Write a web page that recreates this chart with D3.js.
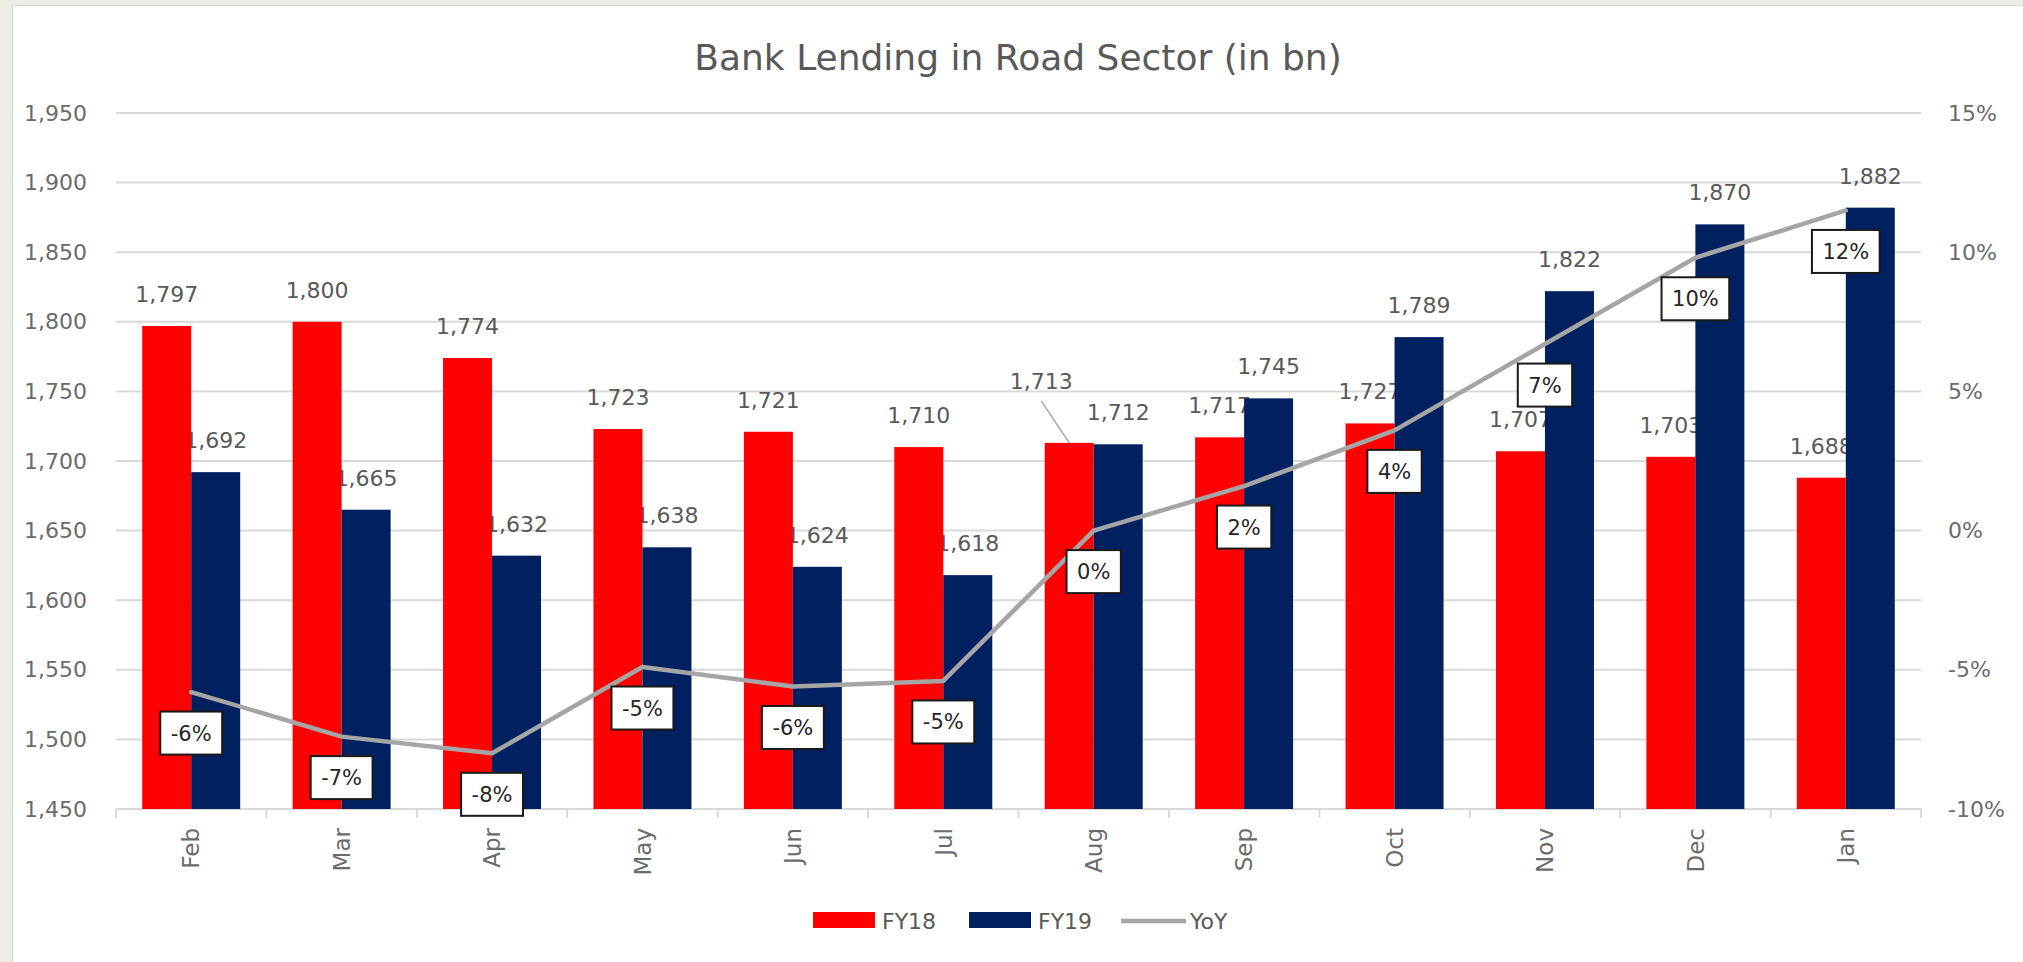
<!DOCTYPE html>
<html>
<head>
<meta charset="utf-8">
<script src="https://cdn.jsdelivr.net/npm/d3@7"></script>
<style>
  html, body { margin: 0; padding: 0; background: #EEEBE4; }
  svg { display: block; }
  text { font-family: "DejaVu Sans", sans-serif; }
</style>
</head>
<body>
<svg id="chart" width="2023" height="962"></svg>
<script>
// Bank lending to the road sector, monthly, FY18 vs FY19 (in bn)
const months = ["Feb", "Mar", "Apr", "May", "Jun", "Jul", "Aug", "Sep", "Oct", "Nov", "Dec", "Jan"];
const fy18 = [1797, 1800, 1774, 1723, 1721, 1710, 1713, 1717, 1727, 1707, 1703, 1688];
const fy19 = [1692, 1665, 1632, 1638, 1624, 1618, 1712, 1745, 1789, 1822, 1870, 1882];
// Year-on-year change, in percent
const yoy = [-5.8, -7.4, -8.0, -4.9, -5.6, -5.4, 0.0, 1.6, 3.6, 6.7, 9.8, 11.5];
const seriesNames = ["FY18", "FY19", "YoY"];
const leftTicks = [1450, 1500, 1550, 1600, 1650, 1700, 1750, 1800, 1850, 1900, 1950];
const rightTicks = [-10, -5, 0, 5, 10, 15];
const title = "Bank Lending in Road Sector (in bn)";

const colors = { FY18: "#FF0000", FY19: "#002060", YoY: "#A5A5A5" };
const svg = d3.select("#chart");

// white chart panel
svg.append("rect").attr("x", 12).attr("y", 5).attr("width", 2011).attr("height", 957)
  .attr("fill", "#FFFFFF");
svg.append("path").attr("d", "M12.5,962V5.5H2023").attr("fill", "none")
  .attr("stroke", "#DADADA").attr("stroke-width", 1.5);

const plot = { left: 116, right: 1921, top: 113, bottom: 809 };

const x = d3.scaleBand().domain(months).range([plot.left, plot.right]).padding(0);
const xs = d3.scaleBand().domain(["FY18", "FY19"]).range([0, x.bandwidth()])
  .paddingInner(0).paddingOuter(0.535);
const y = d3.scaleLinear().domain([1450, 1950]).range([plot.bottom, plot.top]);
const yR = d3.scaleLinear().domain([-10, 15]).range([plot.bottom, plot.top]);

const fmtNum = d3.format(",");
const fmtPct = v => Math.round(v) + "%";

// title
svg.append("text").attr("x", 1018).attr("y", 70).attr("text-anchor", "middle")
  .attr("font-size", 36).attr("fill", "#595959").text(title);

// gridlines
svg.append("g").selectAll("line").data(leftTicks).join("line")
  .attr("x1", plot.left).attr("x2", plot.right)
  .attr("y1", d => y(d)).attr("y2", d => y(d))
  .attr("stroke", "#D9D9D9").attr("stroke-width", 2);

// left axis
const leftAxis = d3.axisLeft(y).tickValues(leftTicks).tickFormat(fmtNum).tickSize(0).tickPadding(29);
const gL = svg.append("g").attr("transform", `translate(${plot.left},0)`).call(leftAxis);
gL.select(".domain").remove();
gL.selectAll("text").attr("font-size", 22).attr("fill", "#6B6B6B").attr("font-family", "DejaVu Sans");

// right axis
const rightAxis = d3.axisRight(yR).tickValues(rightTicks).tickFormat(fmtPct).tickSize(0).tickPadding(27);
const gR = svg.append("g").attr("transform", `translate(${plot.right},0)`).call(rightAxis);
gR.select(".domain").remove();
gR.selectAll("text").attr("font-size", 22).attr("fill", "#6B6B6B").attr("font-family", "DejaVu Sans");

// category axis with ticks on band boundaries
const gX = svg.append("g").attr("transform", `translate(0,${plot.bottom})`);
gX.append("line").attr("x1", plot.left).attr("x2", plot.right)
  .attr("stroke", "#D9D9D9").attr("stroke-width", 2);
const bounds = months.map(m => x(m)).concat([x(months[months.length - 1]) + x.bandwidth()]);
gX.selectAll("line.tk").data(bounds).join("line").attr("class", "tk")
  .attr("x1", d => d).attr("x2", d => d).attr("y1", 0).attr("y2", 9)
  .attr("stroke", "#D9D9D9").attr("stroke-width", 2);
gX.selectAll("text").data(months).join("text")
  .attr("transform", d => `translate(${x(d) + x.bandwidth() / 2},19) rotate(-90)`)
  .attr("text-anchor", "end").attr("dy", "0.36em")
  .attr("font-size", 23).attr("fill", "#6B6B6B").text(d => d);

// bar value labels sit beneath the bars
const barRows = [];
months.forEach((m, i) => {
  barRows.push({ m, s: "FY18", v: fy18[i] });
  barRows.push({ m, s: "FY19", v: fy19[i] });
});
const labelNudge = { "Aug-FY18": [-28, -30] };
const gLab = svg.append("g");
barRows.forEach(d => {
  const cx = x(d.m) + xs(d.s) + xs.bandwidth() / 2;
  const top = y(d.v);
  const n = labelNudge[d.m + "-" + d.s] || [0, 0];
  if (n[0] || n[1]) {
    gLab.append("line").attr("x1", cx + n[0]).attr("y1", top - 42)
      .attr("x2", cx).attr("y2", top).attr("stroke", "#A6A6A6").attr("stroke-width", 1.5);
  }
  gLab.append("text").attr("x", cx + n[0]).attr("y", top - 24 + n[1])
    .attr("text-anchor", "middle").attr("font-size", 22).attr("fill", "#595959")
    .text(fmtNum(d.v));
});

// bars
svg.append("g").selectAll("rect").data(barRows).join("rect")
  .attr("x", d => x(d.m) + xs(d.s))
  .attr("width", xs.bandwidth())
  .attr("y", d => y(d.v))
  .attr("height", d => y(1450) - y(d.v))
  .attr("fill", d => colors[d.s]);

// YoY line on the secondary axis
const pts = months.map((m, i) => [x(m) + x.bandwidth() / 2, yR(yoy[i])]);
svg.append("path").attr("d", d3.line()(pts))
  .attr("fill", "none").attr("stroke", colors.YoY).attr("stroke-width", 4.5)
  .attr("stroke-linejoin", "round").attr("stroke-linecap", "round");

// YoY boxed labels below each point
const gP = svg.append("g");
pts.forEach((p, i) => {
  const g = gP.append("g").attr("transform", `translate(${p[0]},${p[1] + 41})`);
  const t = g.append("text").attr("text-anchor", "middle").attr("dy", "0.36em")
    .attr("font-size", 21).attr("fill", "#262626").text(fmtPct(yoy[i]));
  const w = t.node().getComputedTextLength() + 21;
  g.insert("rect", "text").attr("x", -w / 2).attr("y", -21.5).attr("width", w).attr("height", 43)
    .attr("fill", "#FFFFFF").attr("stroke", "#1A1A1A").attr("stroke-width", 2);
});

// legend
const legend = svg.append("g");
const legendItems = [
  { name: seriesNames[0], x: 813, kind: "box" },
  { name: seriesNames[1], x: 969, kind: "box" },
  { name: seriesNames[2], x: 1121, kind: "line" }
];
legendItems.forEach(it => {
  if (it.kind === "box") {
    legend.append("rect").attr("x", it.x).attr("y", 912).attr("width", 62).attr("height", 16)
      .attr("fill", colors[it.name]);
  } else {
    legend.append("line").attr("x1", it.x).attr("x2", it.x + 65).attr("y1", 921).attr("y2", 921)
      .attr("stroke", colors[it.name]).attr("stroke-width", 4.5);
  }
  legend.append("text").attr("x", it.x + (it.kind === "box" ? 69 : 69)).attr("y", 921)
    .attr("dy", "0.36em").attr("font-size", 22).attr("fill", "#595959").text(it.name);
});
</script>
</body>
</html>
